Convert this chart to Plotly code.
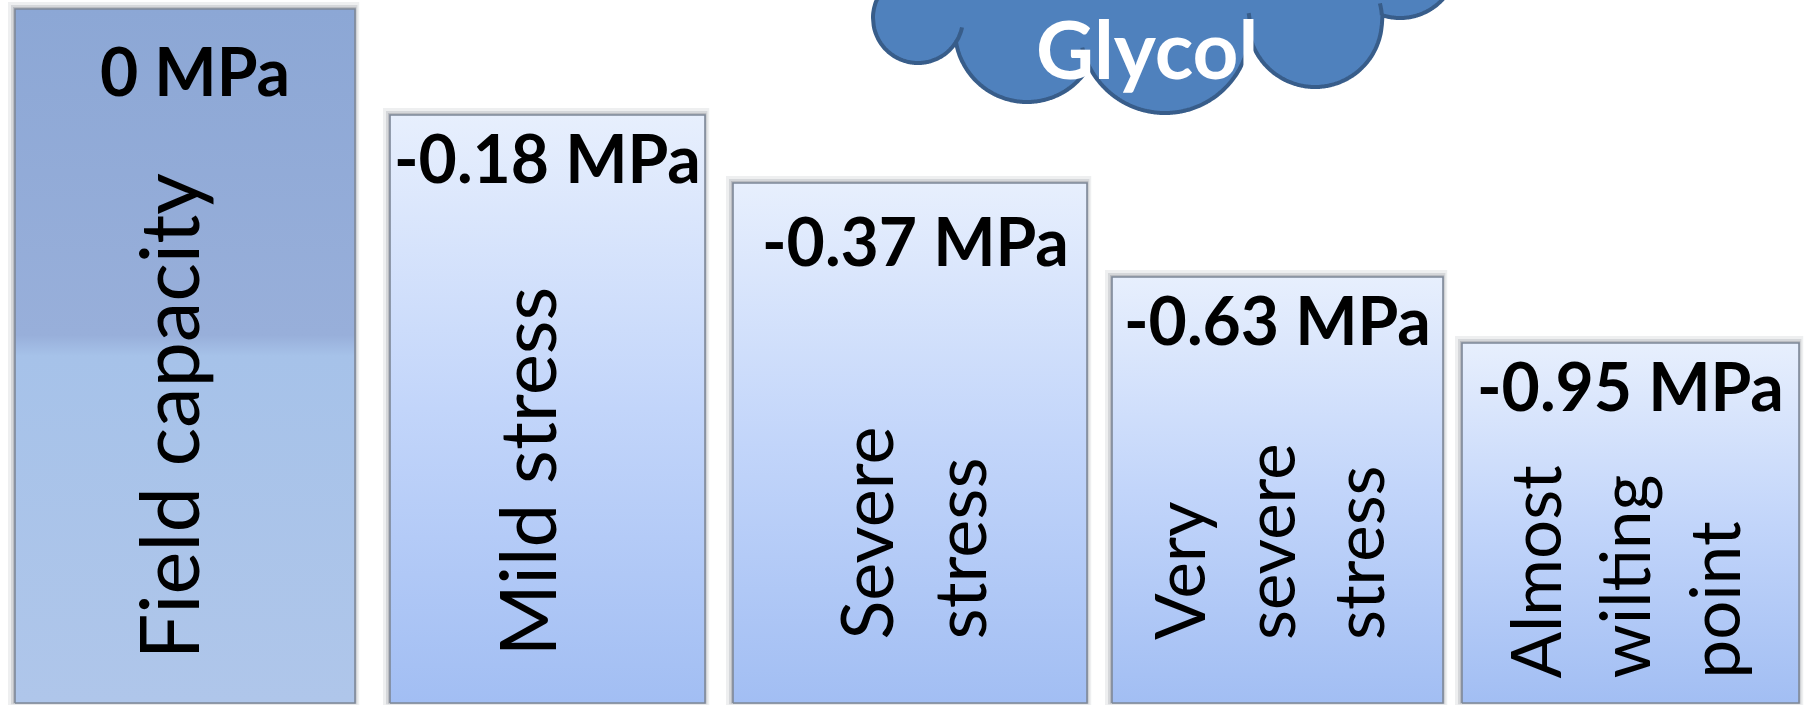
import numpy as np
import plotly.graph_objects as go

# ---------------- data ----------------
stages = ["Field capacity", "Mild stress", "Severe<br>stress",
          "Very<br>severe<br>stress", "Almost<br>wilting<br>point"]
potential_mpa = [0, -0.18, -0.37, -0.63, -0.95]
box_height = [694, 588, 520, 426, 360]          # visual height of each step box
cloud_label = "Glycol"

# ---------------- layout helpers (positions / styles) ----------------
W, H = 1814, 707
BOTTOM_PX = 703
box_left = [15, 390, 733, 1112, 1462]
box_right = [355, 705, 1087, 1443, 1799]
label_drop = [61, 42, 57, 42, 42]               # label centre below box top (px)
label_dx = [10, 0, 5, 0, 0]
text_dx = [-18, -22, 1, -10, -7]                # rotated text offset from box centre
text_bottom_px = [662, 659, 642, 642, 681]
text_size = [81, 78, 72, 69, 69]

def py(px):  # pixel row -> data y
    return BOTTOM_PX - px

first_scale = [[0, "#AFC6EA"], [0.50, "#A6C2E9"], [0.53, "#98AFDA"], [1, "#8CA7D5"]]
other_scale = [[0, "#A2BEF3"], [0.5, "#C2D5FA"], [1, "#E7EFFD"]]

fig = go.Figure()
shapes = []
annotations = []

for i, st in enumerate(stages):
    x0, x1, h = box_left[i], box_right[i], box_height[i]
    for pad, op in [(7, 0.10), (4, 0.16), (2, 0.22)]:
        shapes.append(dict(type="rect", xref="x", yref="y", layer="below",
                           x0=x0 - pad, x1=x1 + pad * 0.6, y0=0 - pad * 0.3, y1=h + pad,
                           fillcolor="rgba(90,95,105,%.2f)" % op, line=dict(width=0)))
    fig.add_trace(go.Scatter(
        x=[x0, x1, x1, x0, x0], y=[0, 0, h, h, 0],
        mode="lines", fill="toself",
        fillgradient=dict(type="vertical",
                          colorscale=first_scale if i == 0 else other_scale),
        line=dict(color="#7E8898", width=1.6),
        hoverinfo="skip", showlegend=False))
    v = potential_mpa[i]
    annotations.append(dict(
        x=(x0 + x1) / 2 + label_dx[i], y=h - label_drop[i],
        xref="x", yref="y", text="<b>%s MPa</b>" % ("%g" % v),
        showarrow=False, xanchor="center", yanchor="middle",
        font=dict(family="Lato", size=66, color="#000000", weight=900)))
    annotations.append(dict(
        x=(x0 + x1) / 2 + text_dx[i], y=py(text_bottom_px[i]),
        xref="x", yref="y", text=st, textangle=-90, align="left",
        showarrow=False, xanchor="center", yanchor="bottom",
        font=dict(family="Lato", size=text_size[i], color="#000000")))

# ---------------- cloud decoration (union of circles, pixel rows) ----------------
circles = [(918, 18, 45), (1027, 30, 72), (1165, 28, 85), (1315, 20, 67), (1400, -40, 58)]
cloud_fill, cloud_line = "#4F81BD", "#385D8A"

ax_, ay_, ar_ = circles[0]
pts = []
t_start = np.pi + np.arcsin(min((ay_ + 70) / ar_, 1.0))
for t in np.linspace(t_start, np.pi, 40):
    pts.append((ax_ + ar_ * np.cos(t), ay_ + ar_ * np.sin(t)))
xmin = ax_ - ar_
xmax = max(cx + r for cx, cy, r in circles)
for x in np.linspace(xmin, xmax, 900):
    best = None
    for cx, cy, r in circles:
        if abs(x - cx) <= r:
            y = cy + np.sqrt(r * r - (x - cx) ** 2)
            best = y if best is None else max(best, y)
    if best is not None:
        pts.append((x, best))
path = "M " + " L ".join("%.1f,%.1f" % (x, py(y)) for x, y in pts)
path += " L %.1f,%.1f L %.1f,%.1f Z" % (pts[-1][0], py(-80), pts[0][0], py(-80))
shapes.append(dict(type="path", xref="x", yref="y", path=path,
                   fillcolor=cloud_fill, line=dict(color=cloud_line, width=4)))

# small inner strokes at junctions (arc of circle s continued into circle o)
def lower_intersection(a, b):
    (x0, y0, r0), (x1, y1, r1) = a, b
    d = np.hypot(x1 - x0, y1 - y0)
    aa = (r0 ** 2 - r1 ** 2 + d ** 2) / (2 * d)
    hh = np.sqrt(max(r0 ** 2 - aa ** 2, 0))
    xm, ym = x0 + aa * (x1 - x0) / d, y0 + aa * (y1 - y0) / d
    p1 = (xm + hh * (y1 - y0) / d, ym - hh * (x1 - x0) / d)
    p2 = (xm - hh * (y1 - y0) / d, ym + hh * (x1 - x0) / d)
    return p1 if p1[1] > p2[1] else p2

for s, o, length in [(0, 1, 16), (2, 1, 20), (2, 3, 22), (3, 4, 12)]:
    ix, iy = lower_intersection(circles[s], circles[o])
    cx, cy, r = circles[s]
    t0 = np.arctan2(iy - cy, ix - cx)
    dt = length / r
    ox, oy, orr = circles[o]
    tx, ty = cx + r * np.cos(t0 + dt / 2), cy + r * np.sin(t0 + dt / 2)
    sign = 1 if (tx - ox) ** 2 + (ty - oy) ** 2 < orr ** 2 else -1
    ts = np.linspace(t0, t0 + sign * dt, 12)
    seg = "M " + " L ".join("%.1f,%.1f" % (cx + r * np.cos(t), py(cy + r * np.sin(t))) for t in ts)
    shapes.append(dict(type="path", xref="x", yref="y", path=seg,
                       line=dict(color=cloud_line, width=4)))

annotations.append(dict(x=1147, y=py(48), xref="x", yref="y",
                        text="<b>%s</b>" % cloud_label, showarrow=False,
                        xanchor="center", yanchor="middle",
                        font=dict(family="Lato", size=80, color="#FFFFFF")))

fig.update_layout(
    width=W, height=H, margin=dict(l=0, r=0, t=0, b=0),
    paper_bgcolor="#FFFFFF", plot_bgcolor="#FFFFFF",
    xaxis=dict(range=[0, W], visible=False, fixedrange=True),
    yaxis=dict(range=[BOTTOM_PX - H, BOTTOM_PX], visible=False, fixedrange=True),
    shapes=shapes, annotations=annotations, showlegend=False,
)

fig.write_html("out.html", config={"displayModeBar": False},
               post_script="document.body.style.margin='0';document.body.style.overflow='hidden';")
